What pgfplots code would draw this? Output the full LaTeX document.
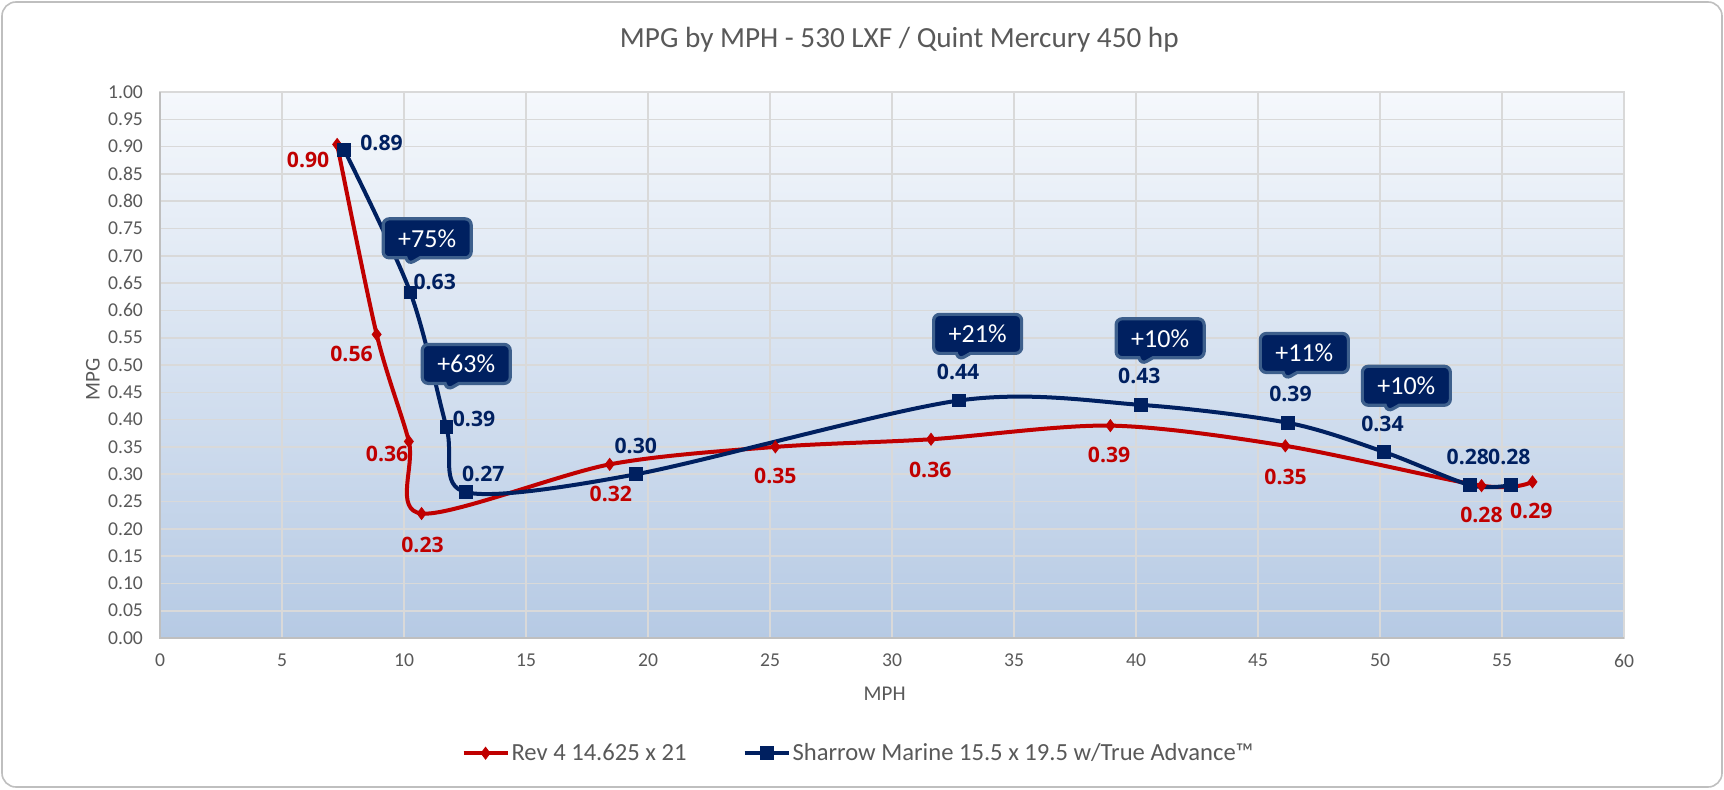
\documentclass[border=0pt]{standalone}
\usepackage{fontspec}
\setmainfont{Carlito}
\newfontfamily\lblfont{Open Sans}
\usepackage{pgfplots}
\pgfplotsset{compat=1.18}
\usetikzlibrary{shapes.callouts}
\definecolor{rd}{HTML}{C00000}
\definecolor{nv}{HTML}{002060}
\definecolor{cb}{HTML}{3D5F8C}
\definecolor{gridc}{HTML}{D9D9D9}
\definecolor{axc}{HTML}{BFBFBF}
\definecolor{txt}{HTML}{595959}
\definecolor{bgtop}{HTML}{F5F8FC}
\definecolor{bgbot}{HTML}{B6CAE4}
\tikzset{
  lblr/.style={font=\lblfont\bfseries\fontsize{10.6}{12}\selectfont, text=rd, inner sep=0pt},
  lblb/.style={font=\lblfont\bfseries\fontsize{10.6}{12}\selectfont, text=nv, inner sep=0pt},
  co/.style={rectangle callout, fill=nv, draw=cb, line width=1.6pt, rounded corners=3pt,
    minimum width=44pt, minimum height=19.5pt, inner sep=0pt, text=white,
    font=\fontsize{13}{14}\selectfont, callout pointer width=7pt},
}
\begin{document}
\begin{tikzpicture}
\useasboundingbox (0,0) rectangle (862pt,394.5pt);
\fill[white] (0,0) rectangle (862pt,394.5pt);
\draw[color=axc, line width=0.8pt, rounded corners=7pt] (1pt,1pt) rectangle (861pt,393.5pt);
\begin{axis}[
  at={(80pt,75.5pt)}, anchor=south west,
  width=732pt, height=273pt, scale only axis,
  xmin=0, xmax=60, ymin=0, ymax=1,
  xtick distance=5, ytick distance=0.05,
  major tick length=0pt,
  grid=major,
  major grid style={gridc, line width=0.8pt},
  axis line style={gridc, line width=0.8pt},
  axis background/.style={top color=bgtop, bottom color=bgbot},
  clip=false,
  /pgf/number format/assume math mode=true,
  tick label style={font=\fontsize{9.8}{11}\selectfont, text=txt},
  yticklabel style={/pgf/number format/fixed, /pgf/number format/fixed zerofill, /pgf/number format/precision=2, xshift=-5pt},
  xticklabel style={yshift=-4.5pt},
  xlabel={MPH},
  xlabel style={at={(axis description cs:0.495,-0.102)}, anchor=center, font=\fontsize{10.5}{12}\selectfont, text=txt},
  ylabel={MPG},
  ylabel style={at={(axis description cs:-0.0458,0.473)}, anchor=center, font=\fontsize{10.5}{12}\selectfont, text=txt},
  title={MPG by MPH - 530 LXF / Quint Mercury 450 hp},
  title style={at={(axis description cs:0.505,1.073)}, anchor=center, font=\fontsize{14.6}{16}\selectfont, text=txt},
  legend style={at={(axis description cs:0.477,-0.211)}, anchor=center, draw=none, fill=none,
    font=\fontsize{12.3}{14}\selectfont, text=txt,
    /tikz/every even column/.append style={column sep=27pt},
    nodes={inner sep=1pt}},
  legend columns=2,
  legend image code/.code={\draw[mark repeat=2, mark phase=2, #1] plot coordinates {(0pt,0pt) (11pt,0pt) (22pt,0pt)};},
  after end axis/.code={\draw[axc, line width=0.9pt] (rel axis cs:0,1) -- (rel axis cs:0,0) -- (rel axis cs:1,0);},
]
\addplot[rd, line width=2pt, smooth, mark=diamond*, mark size=3pt, mark options={solid, line width=0.4pt}] coordinates {
 (7.26,0.904) (8.88,0.556) (10.2,0.360) (10.72,0.228) (18.43,0.318) (25.22,0.350)
 (31.6,0.364) (38.95,0.389) (46.12,0.352) (54.16,0.279) (56.25,0.286)};
\addlegendentry{Rev 4 14.625 x 21}
\addplot[nv, line width=2pt, smooth, mark=square*, mark size=3.2pt, mark options={solid, line width=0.4pt}] coordinates {
 (7.55,0.894) (10.26,0.633) (11.74,0.386) (12.54,0.267) (19.52,0.300) (32.75,0.435)
 (40.19,0.427) (46.24,0.394) (50.15,0.341) (53.69,0.280) (55.36,0.280)};
\addlegendentry{Sharrow Marine 15.5 x 19.5 w/True Advance™}

\node[lblr] at (axis cs:6.07,0.876) {0.90};
\node[lblr] at (axis cs:7.85,0.520) {0.56};
\node[lblr] at (axis cs:9.31,0.337) {0.36};
\node[lblr] at (axis cs:10.76,0.171) {0.23};
\node[lblr] at (axis cs:18.48,0.264) {0.32};
\node[lblr] at (axis cs:25.22,0.296) {0.35};
\node[lblr] at (axis cs:31.57,0.307) {0.36};
\node[lblr] at (axis cs:38.9,0.335) {0.39};
\node[lblr] at (axis cs:46.13,0.295) {0.35};
\node[lblr] at (axis cs:54.16,0.225) {0.28};
\node[lblr] at (axis cs:56.2,0.232) {0.29};

\node[lblb] at (axis cs:9.08,0.906) {0.89};
\node[lblb] at (axis cs:11.26,0.652) {0.63};
\node[lblb] at (axis cs:12.87,0.401) {0.39};
\node[lblb] at (axis cs:13.25,0.300) {0.27};
\node[lblb] at (axis cs:19.5,0.352) {0.30};
\node[lblb] at (axis cs:32.71,0.487) {0.44};
\node[lblb] at (axis cs:40.14,0.480) {0.43};
\node[lblb] at (axis cs:46.33,0.447) {0.39};
\node[lblb] at (axis cs:50.1,0.392) {0.34};
\node[lblb] at (axis cs:53.6,0.332) {0.28};
\node[lblb] at (axis cs:55.3,0.332) {0.28};

\node[co, callout absolute pointer={(axis cs:10.17,0.684)}] at (axis cs:10.95,0.732) {+75\%};
\node[co, callout absolute pointer={(axis cs:11.77,0.454)}] at (axis cs:12.55,0.502) {+63\%};
\node[co, callout absolute pointer={(axis cs:32.73,0.509)}] at (axis cs:33.51,0.557) {+21\%};
\node[co, callout absolute pointer={(axis cs:40.21,0.501)}] at (axis cs:40.99,0.549) {+10\%};
\node[co, callout absolute pointer={(axis cs:46.12,0.474)}] at (axis cs:46.9,0.522) {+11\%};
\node[co, callout absolute pointer={(axis cs:50.3,0.414)}] at (axis cs:51.08,0.462) {+10\%};
\end{axis}
\end{tikzpicture}
\end{document}
